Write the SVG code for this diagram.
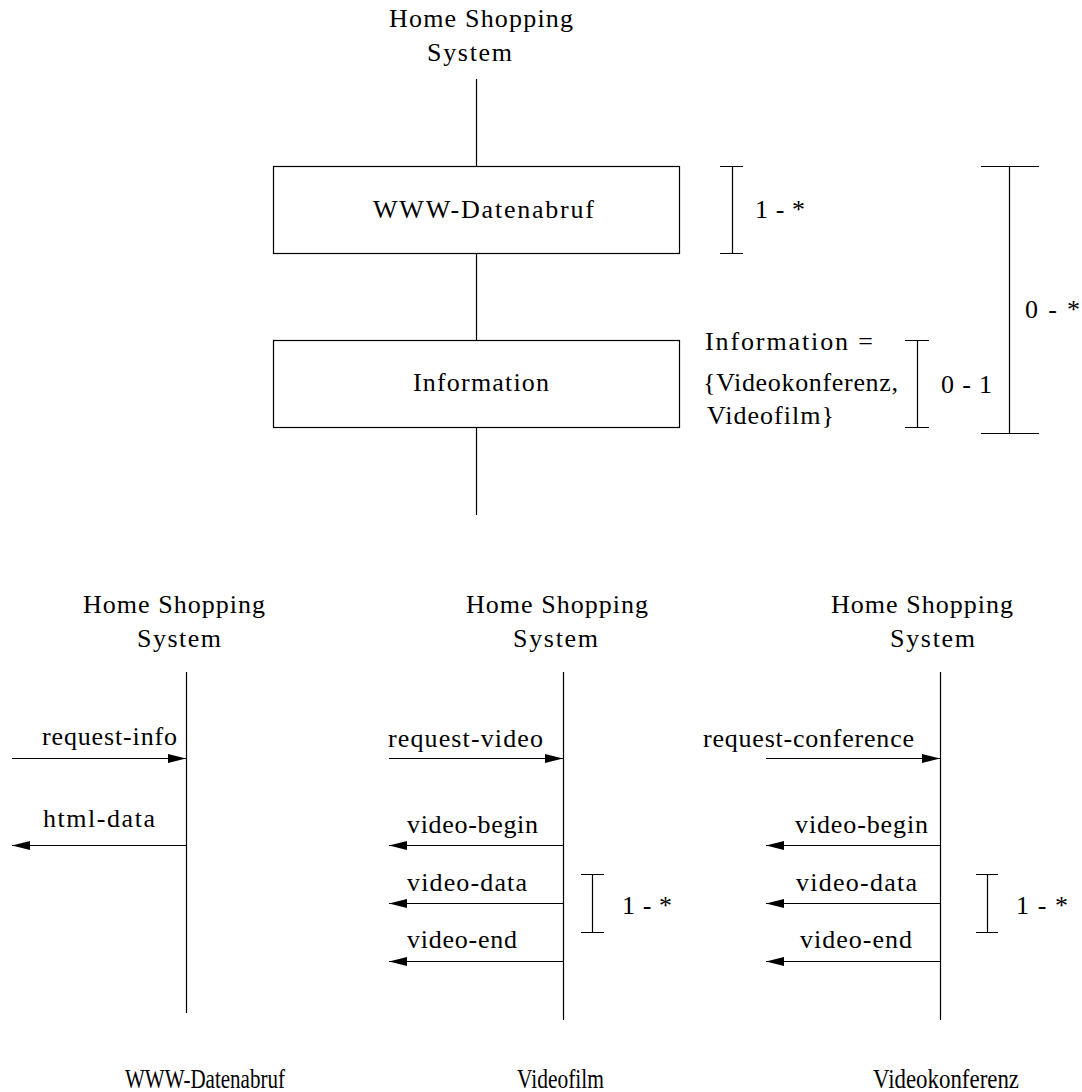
<svg xmlns="http://www.w3.org/2000/svg" width="1082" height="1092" viewBox="0 0 1082 1092">
<style>
text{font-family:"Liberation Serif","Times New Roman",serif;font-size:26px;fill:#000}
.ln{stroke:#000;stroke-width:1.2;fill:none}
.box{stroke:#000;stroke-width:1.2;fill:#fff}
.msg{stroke:#000;stroke-width:1.2;fill:none;marker-end:url(#ah)}
.cap{font-size:28px}
</style>
<defs>
<marker id="ah" markerUnits="userSpaceOnUse" markerWidth="20" markerHeight="12" refX="18" refY="5" orient="auto">
<path d="M0,0.5 L18,5 L0,9.5 Z" fill="#000"/>
</marker>
</defs>
<rect width="1082" height="1092" fill="#fff"/>

<g id="connectors">
<line class="ln" x1="476.5" y1="79" x2="476.5" y2="166"/>
<line class="ln" x1="476.5" y1="253" x2="476.5" y2="340"/>
<line class="ln" x1="476.5" y1="427" x2="476.5" y2="515"/>
<line class="ln" x1="186.5" y1="672" x2="186.5" y2="1013"/>
<line class="ln" x1="563.5" y1="672" x2="563.5" y2="1020"/>
<line class="ln" x1="940.5" y1="672" x2="940.5" y2="1020"/>
<line class="msg" x1="12" y1="758.5" x2="186" y2="758.5"/>
<line class="msg" x1="186" y1="845.5" x2="12" y2="845.5"/>
<line class="msg" x1="389" y1="758.5" x2="563" y2="758.5"/>
<line class="msg" x1="563" y1="845.5" x2="389" y2="845.5"/>
<line class="msg" x1="563" y1="903.5" x2="389" y2="903.5"/>
<line class="msg" x1="563" y1="961.5" x2="389" y2="961.5"/>
<line class="msg" x1="766" y1="758.5" x2="940" y2="758.5"/>
<line class="msg" x1="940" y1="845.5" x2="766" y2="845.5"/>
<line class="msg" x1="940" y1="903.5" x2="766" y2="903.5"/>
<line class="msg" x1="940" y1="961.5" x2="766" y2="961.5"/>
</g>

<g id="top-system">
<text x="389" y="27" textLength="184">Home Shopping</text>
<text x="427" y="61" textLength="85">System</text>
</g>

<g id="node-www">
<rect class="box" x="273.5" y="166.5" width="406" height="87"/>
<text x="373" y="218" textLength="221">WWW-Datenabruf</text>
</g>

<g id="node-information">
<rect class="box" x="273.5" y="340.5" width="406" height="87"/>
<text x="413" y="391" textLength="136">Information</text>
</g>

<g id="mult-www">
<path class="ln" d="M732.5,166.5 V253.5 M720,166.5 H743 M720,253.5 H743"/>
<text x="755" y="218" textLength="50">1 - *</text>
</g>

<g id="mult-all">
<path class="ln" d="M1009.5,166.5 V433.5 M981,166.5 H1039 M981,433.5 H1039"/>
<text x="1025" y="318" textLength="55">0 - *</text>
</g>

<g id="info-note">
<text x="705" y="350" textLength="168">Information =</text>
<text x="703" y="391" textLength="195">{Videokonferenz,</text>
<text x="707" y="424" textLength="127">Videofilm}</text>
</g>

<g id="mult-info">
<path class="ln" d="M917.5,340.5 V427.5 M905,340.5 H929 M905,427.5 H929"/>
<text x="941" y="393" textLength="51">0 - 1</text>
</g>

<g id="seq-www">
<text x="83" y="613" textLength="182">Home Shopping</text>
<text x="137" y="647" textLength="84">System</text>
<text x="42" y="745" textLength="135">request-info</text>
<text x="43" y="827" textLength="112">html-data</text>
<text class="cap" x="125" y="1088" textLength="160" lengthAdjust="spacingAndGlyphs">WWW-Datenabruf</text>
</g>

<g id="seq-videofilm">
<text x="466" y="613" textLength="182">Home Shopping</text>
<text x="513" y="647" textLength="85">System</text>
<text x="388" y="747" textLength="155">request-video</text>
<text x="407" y="833" textLength="131">video-begin</text>
<text x="407" y="891" textLength="120">video-data</text>
<text x="407" y="948" textLength="110">video-end</text>
<path class="ln" d="M592.5,874.5 V932.5 M581,874.5 H604 M581,932.5 H604"/>
<text x="622" y="914" textLength="50">1 - *</text>
<text class="cap" x="517" y="1088" textLength="87" lengthAdjust="spacingAndGlyphs">Videofilm</text>
</g>

<g id="seq-videokonferenz">
<text x="831" y="613" textLength="182">Home Shopping</text>
<text x="890" y="647" textLength="85">System</text>
<text x="703" y="747" textLength="211">request-conference</text>
<text x="795" y="833" textLength="133">video-begin</text>
<text x="796" y="891" textLength="121">video-data</text>
<text x="800" y="948" textLength="112">video-end</text>
<path class="ln" d="M987.5,874.5 V932.5 M976,874.5 H998 M976,932.5 H998"/>
<text x="1016" y="914" textLength="52">1 - *</text>
<text class="cap" x="873" y="1088" textLength="146" lengthAdjust="spacingAndGlyphs">Videokonferenz</text>
</g>
</svg>
